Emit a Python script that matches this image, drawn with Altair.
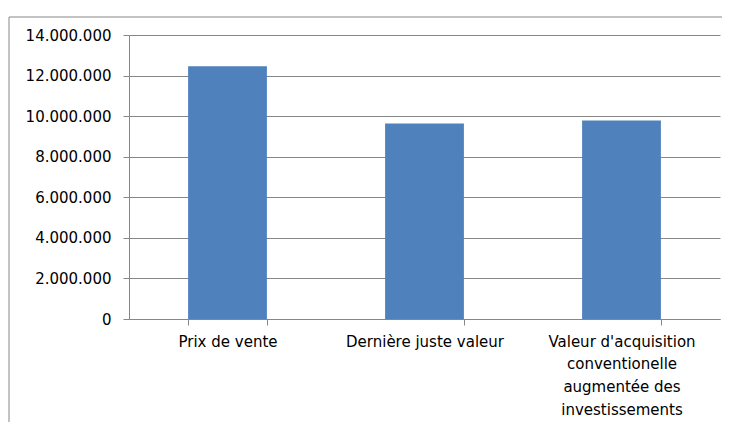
import altair as alt
import pandas as pd

categories = ["Prix de vente", "Dernière juste valeur",
              "Valeur d'acquisition|conventionelle|augmentée des|investissements"]
values = [12460000, 9640000, 9780000]
y_ticks = [0, 2000000, 4000000, 6000000, 8000000, 10000000, 12000000, 14000000]

df = pd.DataFrame({"cat": categories, "val": values})

FONT = "DejaVu Sans"
GRAY = "#878787"

frame = alt.Chart(pd.DataFrame({"d": [0]})).mark_rect(
    fillOpacity=0, stroke=GRAY, strokeWidth=1
).encode(
    x=alt.value(-120), x2=alt.value(900),
    y=alt.value(-18), y2=alt.value(600)
)

bars = alt.Chart(df).mark_bar(color="#4F81BD").encode(
    x=alt.X("cat:N", sort=None, title=None,
            scale=alt.Scale(paddingInner=0.6, paddingOuter=0.3),
            axis=alt.Axis(labelAngle=0, labelFont=FONT, labelFontSize=15,
                          labelColor="black", labelLineHeight=22.8,
                          labelExpr="split(datum.label, '|')",
                          labelBaseline="top", labelPadding=9,
                          tickBand="extent", tickSize=6, tickColor=GRAY,
                          domainColor=GRAY, labelLimit=300)),
    y=alt.Y("val:Q", title=None,
            scale=alt.Scale(domain=[0, 14000000], nice=False),
            axis=alt.Axis(values=y_ticks, labelFont=FONT, labelFontSize=15,
                          labelColor="black", labelPadding=12,
                          labelExpr="replace(format(datum.value, ','), regexp(',', 'g'), '.')",
                          tickSize=6, tickColor=GRAY, domainColor=GRAY,
                          grid=True, gridColor=GRAY, gridWidth=1))
)

chart = alt.layer(frame, bars).properties(
    width=591, height=284,
    autosize=alt.AutoSizeParams(type="none"),
    padding={"left": 121, "top": 27, "right": 2, "bottom": 103},
    background="white"
).configure_view(strokeWidth=0)

chart.save("out.html", embed_options={"renderer": "svg", "actions": False})
